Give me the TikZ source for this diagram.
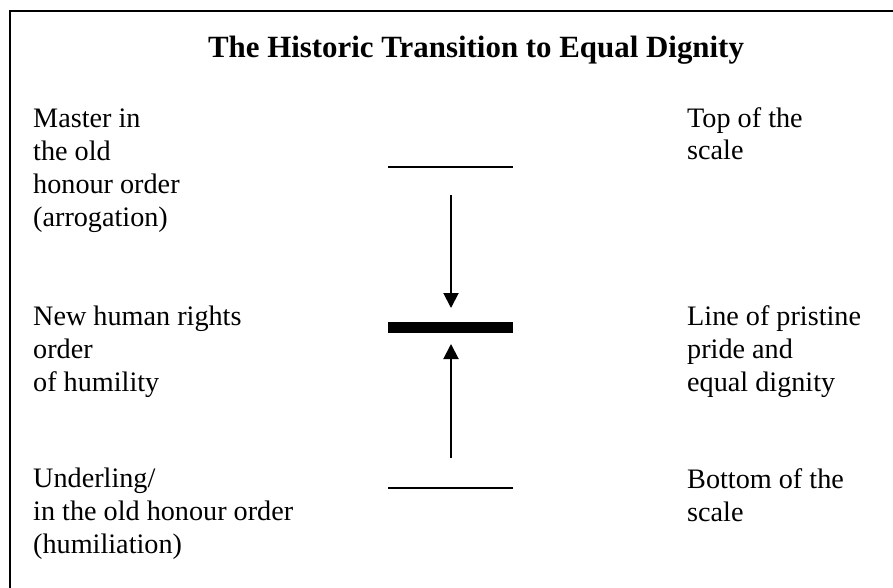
\documentclass[tikz,border=0pt]{standalone}
\usepackage{fontspec}
\setmainfont{Liberation Serif}
\usetikzlibrary{arrows.meta}

\begin{document}
\begin{tikzpicture}[
  x=1pt,y=-1pt,
  every node/.style={inner sep=0pt,anchor=base west,align=left,
    font=\fontsize{28.2}{32.7}\selectfont},
  headline/.style={anchor=base,font=\fontsize{30.9}{36}\selectfont\bfseries},
  level/.style={line width=2pt},
  pristine/.style={line width=11pt},
  edge/.style={line width=2pt,-{Triangle[length=15pt,width=15pt]}}
  ]

  \useasboundingbox (0,0) rectangle (893,588);
  \begin{scope}
    \clip (0,0) rectangle (893,588);
    \draw[line width=2pt] (10,11) rectangle (930,630);
  \end{scope}

  % text nodes sit on the baseline of their last line
  \node[headline] (heading) at (476,58) {The Historic Transition to Equal Dignity};

  \node (master)    at (33,226) {Master in\\the old\\honour order\\(arrogation)};
  \node (newrights) at (33,391) {New human rights\\order\\of humility};
  \node (underling) at (33,553) {Underling/\\in the old honour order\\(humiliation)};

  \node (topscale)     at (687,160) {Top of the\\scale};
  \node (pristineline) at (687,391) {Line of pristine\\pride and\\equal dignity};
  \node (bottomscale)  at (687,521) {Bottom of the\\scale};

  \draw[level] (388,167) -- (513,167);
  \draw[pristine] (388,327.5) -- (513,327.5);
  \draw[level] (388,488) -- (513,488);

  \coordinate (downstart) at (451,195);
  \coordinate (downend)   at (451,308);
  \coordinate (upstart)   at (451,458);
  \coordinate (upend)     at (451,344);

  \draw[edge] (downstart) -- (downend);
  \draw[edge] (upstart) -- (upend);
\end{tikzpicture}
\end{document}
